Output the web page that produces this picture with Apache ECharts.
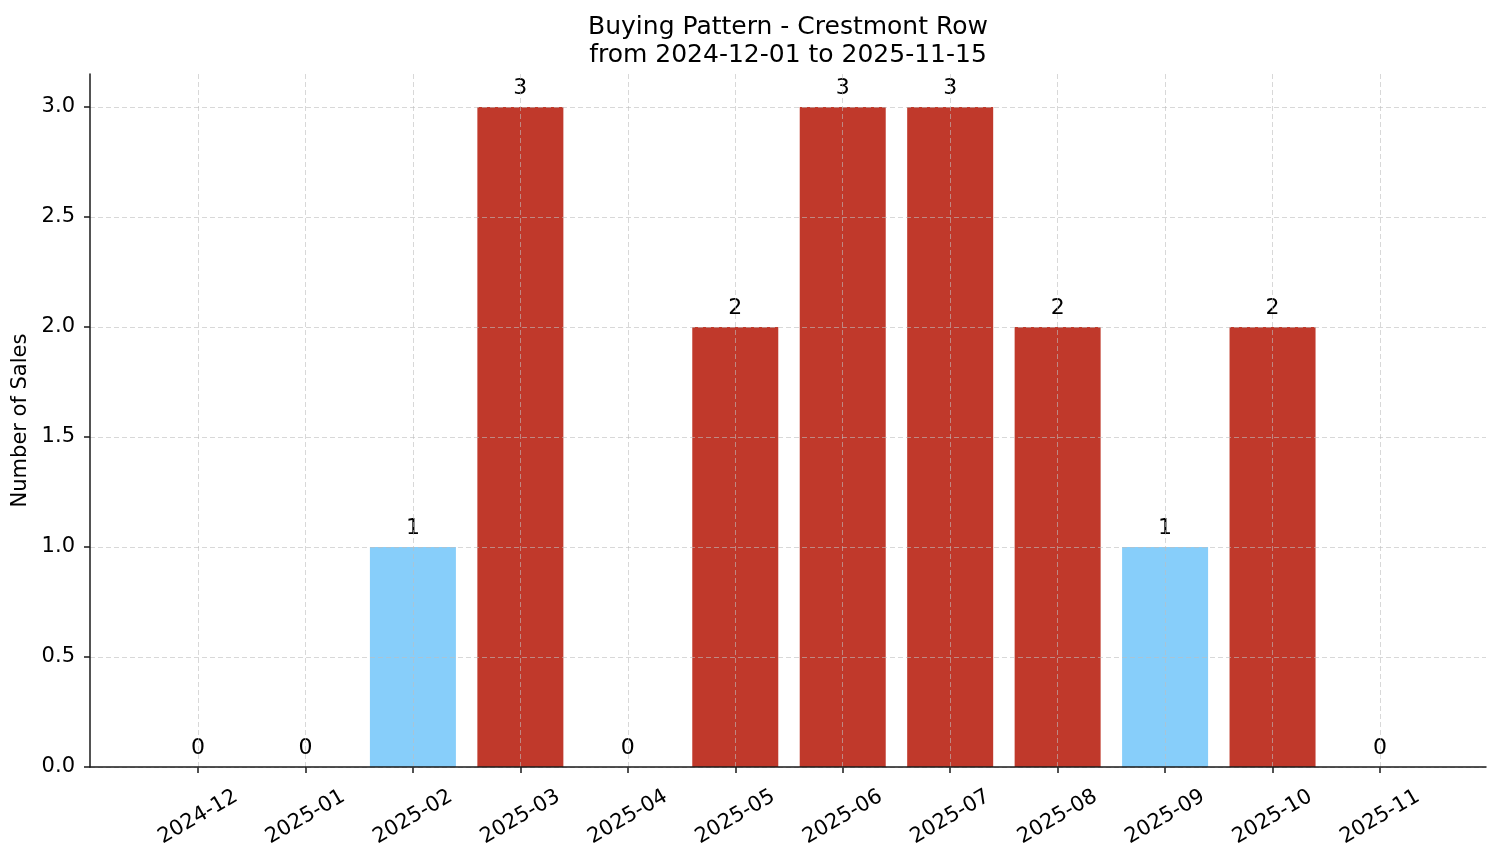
<!DOCTYPE html>
<html>
<head>
<meta charset="utf-8">
<script src="https://cdn.jsdelivr.net/npm/echarts@6/dist/echarts.min.js"></script>
<style>
  html, body { margin: 0; padding: 0; background: #fff; }
  #chart { width: 1501px; height: 863px; }
</style>
</head>
<body>
<div id="chart"></div>
<script>
const months = ["2024-12", "2025-01", "2025-02", "2025-03", "2025-04", "2025-05",
                "2025-06", "2025-07", "2025-08", "2025-09", "2025-10", "2025-11"];
const sales = [0, 0, 1, 3, 0, 2, 3, 3, 2, 1, 2, 0];
const yTicks = [0, 0.5, 1, 1.5, 2, 2.5, 3];

const avg = sales.reduce((a, b) => a + b, 0) / sales.length;
const ink = "#1a1a1a";
// light, half transparent, drawn over the bars like the reference
const gridLine = {
  show: true,
  lineStyle: { color: "rgba(190,190,190,0.6)", type: [5, 3], width: 1 }
};

let chart = echarts.init(document.getElementById("chart"));
chart.setOption({
  animation: false,
  textStyle: { fontFamily: "DejaVu Sans" },
  title: {
    text: "Buying Pattern - Crestmont Row\nfrom 2024-12-01 to 2025-11-15",
    left: 788,
    top: 13,
    textAlign: "center",
    padding: 0,
    textStyle: { fontSize: 25, fontWeight: "normal", color: "#000", lineHeight: 28 }
  },
  grid: [
    // bars: category centres span the first to last tick
    { left: 198, right: 121, top: 74, bottom: 96 },
    // frame: spines, y ticks and labels
    { left: 90, right: 15, top: 74, bottom: 96 }
  ],
  xAxis: [
    {
      gridIndex: 0,
      type: "category",
      data: months,
      boundaryGap: false,
      z: 3,
      axisLine: { show: false },
      axisTick: { show: true, interval: 0, length: 6, lineStyle: { color: ink, width: 1.5 } },
      axisLabel: {
        interval: 0, rotate: 30, align: "center", verticalAlign: "middle",
        margin: 50, fontSize: 21, color: "#000"
      },
      splitLine: Object.assign({ interval: 0 }, gridLine)
    },
    {
      gridIndex: 1,
      type: "value",
      min: 0,
      max: 1,
      z: 5,
      axisLine: { show: true, onZero: false, lineStyle: { color: ink, width: 1.5 } },
      axisTick: { show: false },
      axisLabel: { show: false },
      splitLine: { show: false }
    }
  ],
  yAxis: [
    { gridIndex: 0, type: "value", min: 0, max: 3.15, show: false },
    {
      gridIndex: 1,
      type: "value",
      min: 0,
      max: 3.15,
      interval: 0.5,
      z: 4,
      name: "Number of Sales",
      nameLocation: "middle",
      nameGap: 51,
      nameTextStyle: { fontSize: 21, color: "#000" },
      axisLine: { show: true, lineStyle: { color: ink, width: 1.5 } },
      axisTick: { show: true, length: 6, customValues: yTicks, lineStyle: { color: ink, width: 1.5 } },
      axisLabel: {
        fontSize: 21, color: "#000", margin: 15, customValues: yTicks,
        formatter: v => v.toFixed(1)
      },
      splitLine: gridLine
    }
  ],
  series: [
    {
      type: "bar",
      xAxisIndex: 0,
      yAxisIndex: 0,
      barWidth: 86,
      data: sales.map(v => ({
        value: v,
        itemStyle: { color: v > avg ? "#c0392b" : "#87cefa" }
      })),
      label: { show: true, position: "top", distance: 8, fontSize: 22, color: "#000" }
    }
  ]
});
</script>
</body>
</html>
